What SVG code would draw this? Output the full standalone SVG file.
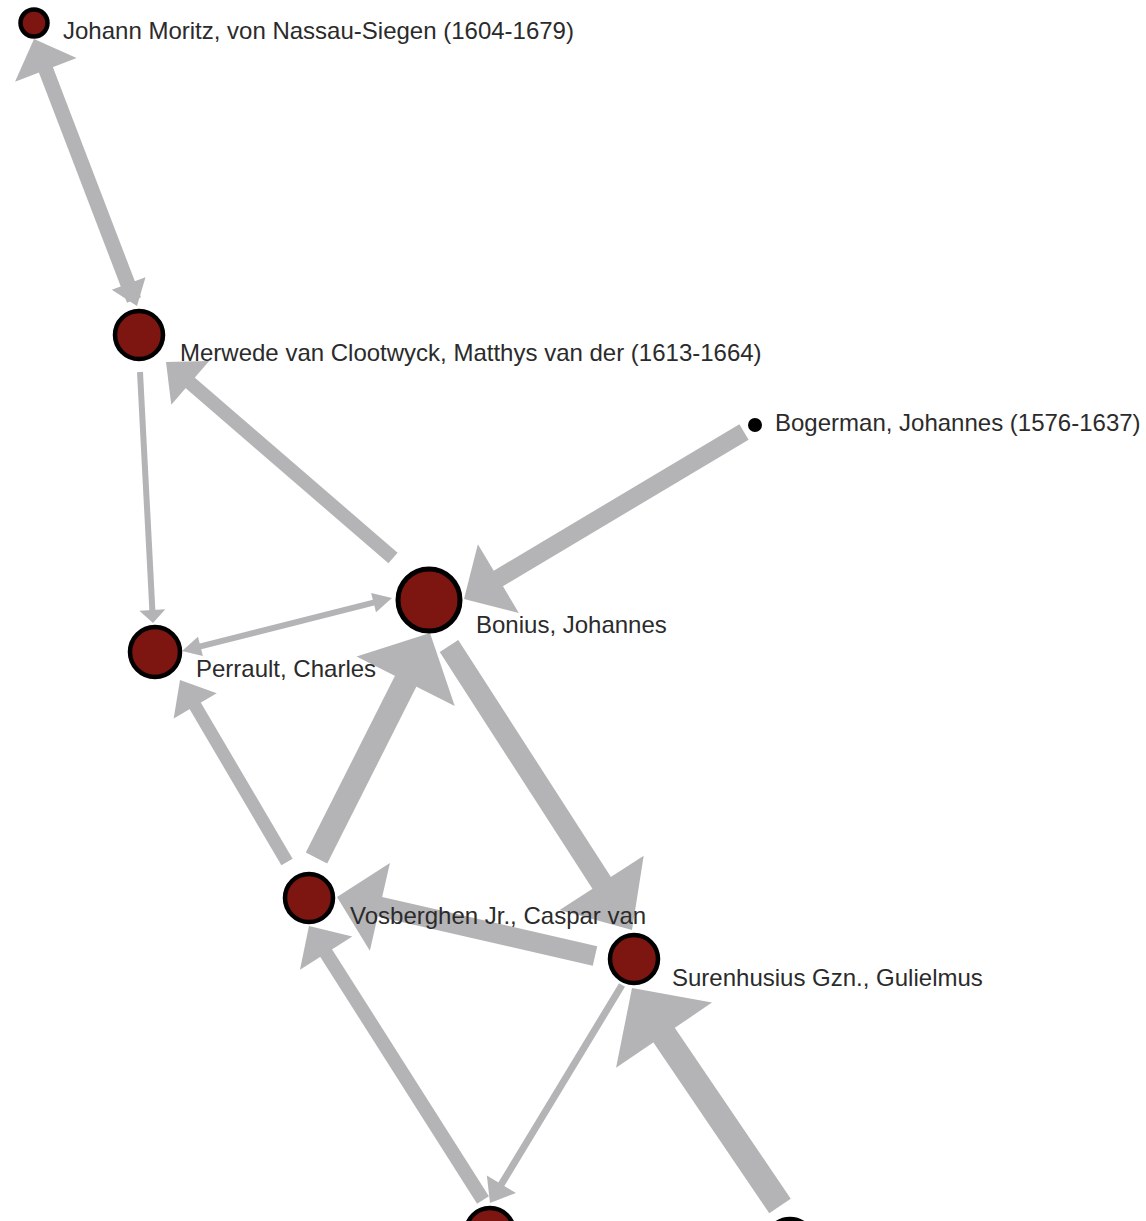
<svg xmlns="http://www.w3.org/2000/svg" xmlns:xlink="http://www.w3.org/1999/xlink" width="1146" height="1221" viewBox="0 0 1146 1221">
  <style>
    .edge line { stroke: #b4b4b6; stroke-linecap: butt; }
    .edge use { fill: #b4b4b6; }
    .node circle { fill: #7d1511; stroke: #000; stroke-width: 4.5; }
    .node circle.small { fill: #000; stroke: none; }
    .label { font-family: "Liberation Sans", Arial, sans-serif; font-size: 24px; fill: #2b2b2b; }
  </style>
  <defs>
    <!-- unit arrowhead: tip at origin, pointing along +x, back at x=-1, half-width 1 -->
    <path id="ah" d="M0,0 L-1,-1 L-1,1 Z"/>
  </defs>
  <rect width="1146" height="1221" fill="#fff"/>

  <g id="connectors">
    <!-- Merwede -> Johann Moritz -->
    <g class="edge"><line x1="134" y1="300" x2="45.5" y2="68.9" stroke-width="15"/><use xlink:href="#ah" href="#ah" transform="translate(34,39) rotate(-111) scale(33,33)"/></g>
    <!-- Johann Moritz -> Merwede -->
    <g class="edge"><line x1="40" y1="45" x2="129" y2="284.4" stroke-width="8"/><use xlink:href="#ah" href="#ah" transform="translate(137,306) rotate(69.6) scale(24,18)"/></g>
    <!-- Merwede -> Perrault -->
    <g class="edge"><line x1="140" y1="372" x2="152.4" y2="611" stroke-width="6"/><use xlink:href="#ah" href="#ah" transform="translate(153,623) rotate(87) scale(13,13)"/></g>
    <!-- Bonius -> Merwede -->
    <g class="edge"><line x1="393" y1="558" x2="189.5" y2="382.3" stroke-width="14"/><use xlink:href="#ah" href="#ah" transform="translate(166,362) rotate(-139.2) scale(32,29)"/></g>
    <!-- Bogerman -> Bonius -->
    <g class="edge"><line x1="744" y1="432" x2="496.6" y2="579.5" stroke-width="18"/><use xlink:href="#ah" href="#ah" transform="translate(464,599) rotate(149.2) scale(40,40)"/></g>
    <!-- Perrault <-> Bonius -->
    <g class="edge"><line x1="199.5" y1="646.6" x2="374.5" y2="602.4" stroke-width="6"/><use xlink:href="#ah" href="#ah" transform="translate(392,598) rotate(-14.2) scale(19,10)"/><use xlink:href="#ah" href="#ah" transform="translate(182,651) rotate(165.8) scale(19,10)"/></g>
    <!-- Vosberghen -> Perrault -->
    <g class="edge"><line x1="287" y1="862" x2="194.7" y2="705" stroke-width="13"/><use xlink:href="#ah" href="#ah" transform="translate(180,680) rotate(-120.5) scale(30,25)"/></g>
    <!-- Vosberghen -> Bonius -->
    <g class="edge"><line x1="316.5" y1="858" x2="406.6" y2="679.4" stroke-width="24"/><use xlink:href="#ah" href="#ah" transform="translate(430,633) rotate(-63.2) scale(54,55)"/></g>
    <!-- Bonius -> Surenhusius -->
    <g class="edge"><line x1="449" y1="646" x2="602.8" y2="884.6" stroke-width="22"/><use xlink:href="#ah" href="#ah" transform="translate(632,930) rotate(57.2) scale(56,50)"/></g>
    <!-- Surenhusius -> Vosberghen -->
    <g class="edge"><line x1="595" y1="956" x2="378.9" y2="906.6" stroke-width="20"/><use xlink:href="#ah" href="#ah" transform="translate(337,897) rotate(-167.1) scale(44,45)"/></g>
    <!-- lower left node -> Vosberghen -->
    <g class="edge"><line x1="483" y1="1200" x2="325.6" y2="952.2" stroke-width="14"/><use xlink:href="#ah" href="#ah" transform="translate(309,926) rotate(-122.4) scale(32,31)"/></g>
    <!-- Surenhusius -> lower left node -->
    <g class="edge"><line x1="622" y1="985" x2="500.9" y2="1185" stroke-width="7"/><use xlink:href="#ah" href="#ah" transform="translate(490,1203) rotate(121.2) scale(22,17)"/></g>
    <!-- lower right node -> Surenhusius -->
    <g class="edge"><line x1="780" y1="1206" x2="663.5" y2="1034.3" stroke-width="26"/><use xlink:href="#ah" href="#ah" transform="translate(632,988) rotate(-124.2) scale(57,58)"/></g>
  </g>

  <g id="nodes">
    <g id="johann-moritz" class="node"><circle cx="34" cy="23" r="13.5"/><text class="label" x="63" y="38.5">Johann Moritz, von Nassau-Siegen (1604-1679)</text></g>
    <g id="merwede" class="node"><circle cx="139" cy="335" r="24"/><text class="label" x="180" y="361">Merwede van Clootwyck, Matthys van der (1613-1664)</text></g>
    <g id="bogerman" class="node"><circle class="small" cx="755" cy="425" r="7"/><text class="label" x="775" y="431">Bogerman, Johannes (1576-1637)</text></g>
    <g id="bonius" class="node"><circle cx="429" cy="600" r="31" style="stroke-width:5"/><text class="label" x="476" y="633">Bonius, Johannes</text></g>
    <g id="perrault" class="node"><circle cx="155" cy="652" r="25"/><text class="label" x="196" y="677">Perrault, Charles</text></g>
    <g id="vosberghen" class="node"><circle cx="309" cy="898" r="24"/><text class="label" x="350" y="924">Vosberghen Jr., Caspar van</text></g>
    <g id="surenhusius" class="node"><circle cx="634" cy="959" r="24"/><text class="label" x="672" y="986">Surenhusius Gzn., Gulielmus</text></g>
    <g id="lower-left" class="node"><circle cx="490" cy="1232" r="24"/></g>
    <g id="lower-right" class="node"><circle cx="790" cy="1243" r="24"/></g>
  </g>
</svg>
